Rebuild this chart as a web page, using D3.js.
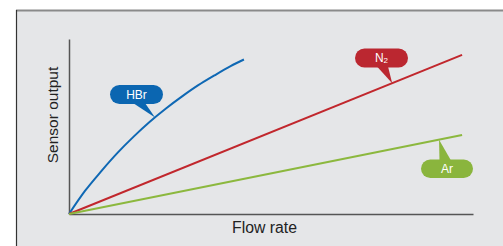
<!DOCTYPE html>
<html>
<head>
<meta charset="utf-8">
<script src="https://cdn.jsdelivr.net/npm/d3@7"></script>
<style>
  html, body { margin: 0; padding: 0; background: #ffffff; }
  svg { display: block; }
  text { font-family: "Liberation Sans", Arial, sans-serif; }
</style>
</head>
<body>
<svg id="chart" width="503" height="246"></svg>
<script>
// ---- data (arbitrary units: flow rate 0..100, sensor output 0..100) ----
const seriesNames = ["HBr", "N2", "Ar"];
const hbrFlow   = [0, 4, 8, 12, 16, 20, 24, 28, 32, 36, 40, 43.3];
const hbrOutput = [0, 13.3, 24.5, 34.9, 44.2, 52.7, 60.3, 67.2, 73.6, 79.2, 84.5, 88.3];
const n2Flow    = [0, 97.3];
const n2Output  = [0, 90.9];
const arFlow    = [0, 97.3];
const arOutput  = [0, 45.1];
// flow value where each callout points at its line
const calloutFlow = [21.3, 80.0, 91.6];
const xLabel = "Flow rate";
const yLabel = "Sensor output";

// ---- layout / style ----
const W = 503, H = 246;
const colors = ["#0f68b4", "#c1272d", "#8cb83e"];
const bubbleColors = ["#0b66b1", "#bb2730", "#8ab53d"];
const svg = d3.select("#chart");

// panel
svg.append("rect").attr("x", 16).attr("y", 10).attr("width", W).attr("height", H)
  .attr("fill", "#e5e6e8");
svg.append("line").attr("x1", 16).attr("x2", W).attr("y1", 10.5).attr("y2", 10.5)
  .attr("stroke", "#8a8a8a").attr("stroke-width", 2);
svg.append("line").attr("x1", 16.5).attr("x2", 16.5).attr("y1", 10).attr("y2", H)
  .attr("stroke", "#333").attr("stroke-width", 1.2);

const x = d3.scaleLinear().domain([0, 100]).range([69, 473]);
const y = d3.scaleLinear().domain([0, 100]).range([214, 39]);

// axes (no ticks)
const gx = svg.append("g").attr("transform", `translate(0,${y(0)})`)
  .call(d3.axisBottom(x).tickValues([]).tickSizeOuter(0));
const gy = svg.append("g").attr("transform", `translate(${x(0)},0)`)
  .call(d3.axisLeft(y).tickValues([]).tickSizeOuter(0));
[gx, gy].forEach(g => g.select(".domain").attr("stroke", "#555").attr("stroke-width", 1.5));

svg.append("text").attr("x", 264.5).attr("y", 233).attr("text-anchor", "middle")
  .attr("font-size", 15.8).attr("fill", "#222").text(xLabel);
svg.append("text").attr("transform", "translate(58,115) rotate(-90)")
  .attr("text-anchor", "middle").attr("font-size", 15.5).attr("fill", "#222").text(yLabel);

// lines
const series = [
  { name: seriesNames[0], pts: hbrFlow.map((f, i) => [f, hbrOutput[i]]) },
  { name: seriesNames[1], pts: n2Flow.map((f, i) => [f, n2Output[i]]) },
  { name: seriesNames[2], pts: arFlow.map((f, i) => [f, arOutput[i]]) }
];
const line = d3.line().x(d => x(d[0])).y(d => y(d[1])).curve(d3.curveMonotoneX);
series.forEach((s, i) => {
  svg.append("path").attr("d", line(s.pts)).attr("fill", "none")
    .attr("stroke", colors[i]).attr("stroke-width", 2);
});

// value on a series at given flow (linear interpolation between points)
function valueAt(pts, f) {
  for (let i = 1; i < pts.length; i++) {
    if (f <= pts[i][0]) {
      const t = (f - pts[i-1][0]) / (pts[i][0] - pts[i-1][0]);
      return pts[i-1][1] + t * (pts[i][1] - pts[i-1][1]);
    }
  }
  return pts[pts.length - 1][1];
}

// callout bubbles (pixel layout)
const bubbleLayout = [
  { bx: 110, by: 85,  bw: 53, bh: 19, base: [133, 145], side: "bottom" },
  { bx: 355, by: 48.5, bw: 53, bh: 19, base: [377, 388], side: "bottom" },
  { bx: 421, by: 159.5, bw: 52, bh: 18.5, base: [439.5, 451], side: "top" }
];
series.forEach((s, i) => {
  const L = bubbleLayout[i];
  const tx = x(calloutFlow[i]);
  const ty = y(valueAt(s.pts, calloutFlow[i]));
  const g = svg.append("g");
  g.append("rect").attr("x", L.bx).attr("y", L.by).attr("width", L.bw).attr("height", L.bh)
    .attr("rx", L.bh / 2).attr("ry", L.bh / 2).attr("fill", bubbleColors[i]);
  const edgeY = L.side === "bottom" ? L.by + L.bh - 1 : L.by + 1;
  g.append("path")
    .attr("d", `M${L.base[0]},${edgeY} L${tx},${ty} L${L.base[1]},${edgeY} Z`)
    .attr("fill", bubbleColors[i]);
  const t = g.append("text").attr("x", L.bx + L.bw / 2).attr("y", L.by + L.bh / 2 + 4.3)
    .attr("text-anchor", "middle").attr("font-size", 12).attr("fill", "#fff");
  if (s.name === "N2") {
    t.append("tspan").text("N");
    t.append("tspan").attr("font-size", 8).attr("dy", 1).text("2");
  } else {
    t.text(s.name);
  }
});
</script>
</body>
</html>
